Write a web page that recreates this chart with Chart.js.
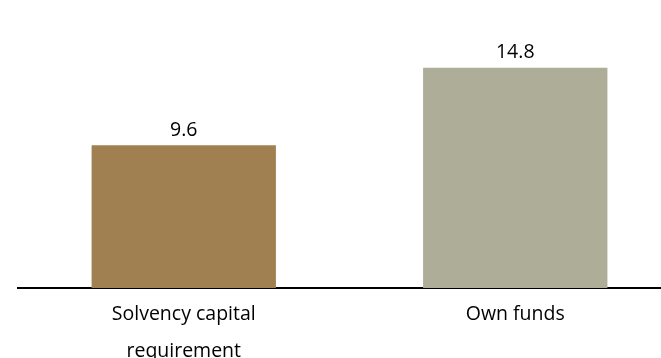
<!DOCTYPE html>
<html lang="en">
<head>
  <meta charset="UTF-8">
  <title>Solvency</title>
  <script src="https://cdn.jsdelivr.net/npm/chart.js"></script>
  <style>
    html, body { margin: 0; padding: 0; background: #fff; overflow: hidden; }
    #wrap { width: 681px; height: 358px; }
  </style>
</head>
<body>
<div id="wrap"><canvas id="chart"></canvas></div>
<script>
  const categories = [["Solvency capital", "requirement"], "Own funds"];
  const values = [9.6, 14.8];
  const barColors = ["#A08050", "#AEAD98"];

  // draw value labels above each bar
  const valueLabels = {
    id: "valueLabels",
    afterDatasetsDraw(chart) {
      const ctx = chart.ctx;
      const meta = chart.getDatasetMeta(0);
      ctx.save();
      ctx.font = "19.5px 'Open Sans'";
      ctx.fillStyle = "#000";
      ctx.textAlign = "center";
      ctx.textBaseline = "middle";
      meta.data.forEach((bar, i) => {
        ctx.fillText(values[i].toFixed(1), bar.x, bar.y - 15);
      });
      ctx.restore();
    }
  };

  new Chart(document.getElementById("chart"), {
    type: "bar",
    data: {
      labels: categories,
      datasets: [{
        data: values,
        backgroundColor: barColors,
        categoryPercentage: 1,
        barPercentage: 0.556
      }]
    },
    options: {
      responsive: true,
      maintainAspectRatio: false,
      animation: false,
      layout: { padding: { left: 18, right: 0, top: 50, bottom: 0 } },
      plugins: { legend: { display: false }, tooltip: { enabled: false } },
      scales: {
        x: {
          grid: { display: false },
          border: { display: true, color: "#000", width: 2 },
          afterFit: (axis) => { axis.height = 70; },
          ticks: {
            color: "#000",
            padding: 0,
            font: { family: "'Open Sans'", size: 19.5, lineHeight: 1.9 }
          }
        },
        y: {
          display: false,
          min: 0,
          max: 16
        }
      }
    },
    plugins: [valueLabels]
  });
</script>
</body>
</html>
